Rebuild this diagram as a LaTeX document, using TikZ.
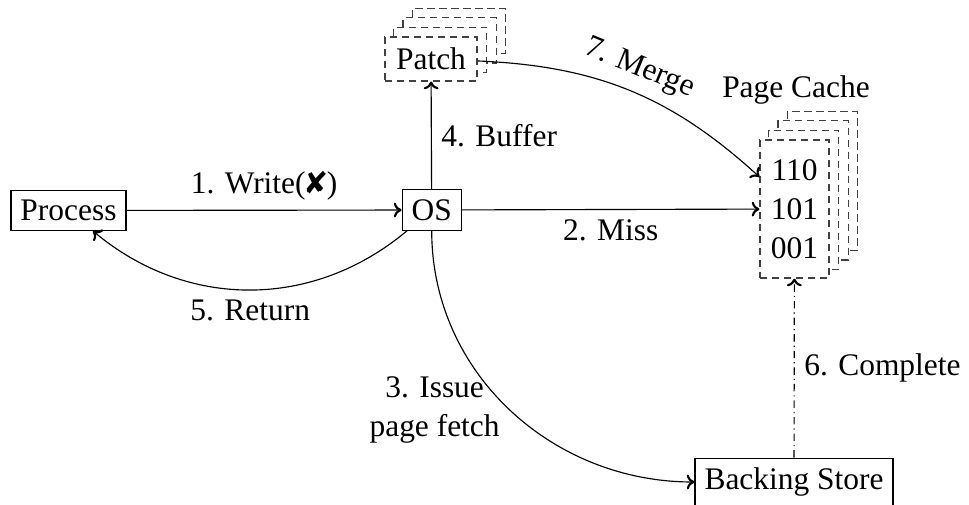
\documentclass[tikz,border=0pt]{standalone}
\usepackage{fontspec}
\setmainfont{Liberation Serif}
\usepackage{pifont}
\usetikzlibrary{backgrounds,arrows.meta}

\tikzset{
  every node/.style={font=\fontsize{11}{13.6}\selectfont},
  box/.style={draw, fill=white, line width=0.4pt},
  card/.style={draw=black!75, fill=white, dash pattern=on 2.6pt off 1.6pt, line width=0.4pt},
  flow/.style={-{To[length=2.7pt, width=5.2pt, line width=0.75pt]}, line width=0.4pt},
  dashdot/.style={dash pattern=on 2.6pt off 1.4pt on 0.4pt off 1.4pt},
}

\begin{document}
\begin{tikzpicture}[x=0.35pt, y=-0.35pt]
  \useasboundingbox (0,0) rectangle (969,505);

  % main boxes
  \node[box] (proc) at (68.5,210.5) {Process};
  \node[box] (os) at (431.7,210) {OS};
  \node[box] (bs) at (794,482) {Backing Store};

  % patch stack (front card plus three copies behind)
  \node[card, minimum width=32.2pt, minimum height=15.4pt] (patch) at (431,59) {Patch};
  % page cache stack
  \node[card, minimum width=24.15pt, minimum height=48.3pt, align=center] (pc) at (794.5,209) {110\\101\\001};
  \node (pclabel) at (796,90) {Page Cache};

  \begin{scope}[on background layer]
    \foreach \k in {3,2,1} {
      \draw[card] ([shift={(9.3*\k,-9.3*\k)}]patch.south west) rectangle ([shift={(9.3*\k,-9.3*\k)}]patch.north east);
      \draw[card] ([shift={(9.3*\k,-9.3*\k)}]pc.south west) rectangle ([shift={(9.3*\k,-9.3*\k)}]pc.north east);
    }
  \end{scope}

  % connectors
  \draw[flow] (proc) -- node[above] {1. Write(\ding{56})} (os);
  \draw[flow] (os) -- node[below] {2. Miss} (pc);
  \draw[flow] (os) to[out=-90, in=180] node[left, align=center] {3. Issue\\page fetch} (bs);
  \draw[flow] (os) -- node[right] {4. Buffer} (patch);
  \draw[flow] (os) to[bend left=40] node[below] {5. Return} (proc);
  \draw[flow, dashdot] (bs) -- node[right] {6. Complete} (pc);
  \draw[flow] (patch) to[bend left=20] node[above, sloped] {7. Merge} (pc);
\end{tikzpicture}
\end{document}
